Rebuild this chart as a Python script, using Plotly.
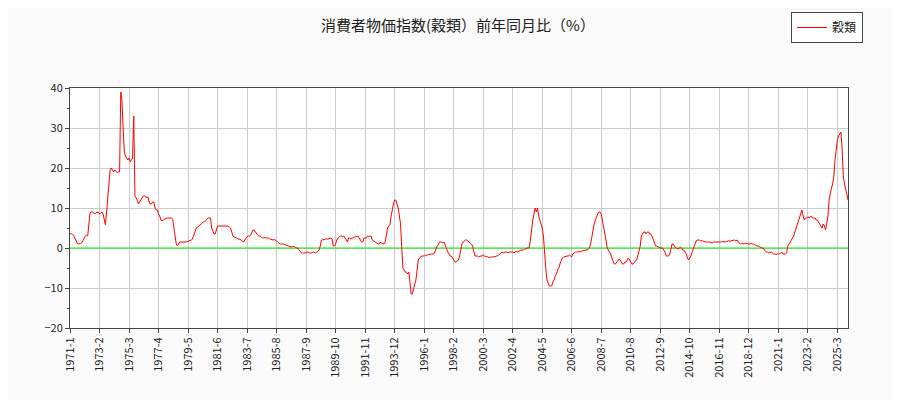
import plotly.graph_objects as go

start_year = 1971
values = [
3.5,3.6,3.4,3.2,2.5,1.8,1.3,1.0,1.0,1.1,1.3,2.0,
2.5,3.0,3.2,3.0,6.0,8.8,9.0,9.0,8.8,8.5,8.8,9.0,
9.0,8.5,8.8,9.0,8.5,7.0,5.8,9.0,13,17,19.5,20,
19.5,19,19.5,19,18.8,19,19,39,37,30,24,23,
22.5,22,22.5,21.5,22,22.5,33,13,12.5,12,11,11.5,
12,12.5,13,13,13,12.5,12.8,11.5,11,11,11.5,11.5,
10,9.5,9.5,8.5,8,7,6.8,7,7.2,7.5,7.5,7.5,
7.5,7.4,7.5,7.2,5,2,1,0.5,1,1.5,1.5,1.5,
1.5,1.5,1.5,1.5,1.7,1.8,1.8,2.0,2.5,3.5,4.5,5,
5.2,5.5,5.8,6,6.2,6.5,6.5,7,7.2,7.5,7.5,7.5,
5,4,3.5,3.5,4.5,5.5,5.5,5.5,5.5,5.5,5.5,5.5,
5.5,5.4,5.5,5.2,5,4,3,2.8,2.6,2.5,2.3,2.2,
2.2,2,1.8,1.5,2,2.5,2.8,3,3,3.2,3.8,4.5,
4.5,4,3.5,3.2,3,3,2.8,2.5,2.5,2.6,2.5,2.5,
2.5,2.3,2.2,2,2,2.1,2,1.8,1.5,1.2,1,1,
1,1,0.8,0.7,0.6,0.5,0.5,0.3,0.2,0.5,0.2,0.1,
0,0,-0.5,-1,-1.2,-1.2,-1.3,-1.2,-1.2,-1,-1.2,-1.2,
-1.3,-1.2,-1,-1.1,-1.2,-1,-0.8,-0.5,0.5,2,2.2,2,
2.2,2.3,2.2,2.3,2.5,2.5,2.3,0.5,0.5,1,2,2.5,
2.8,3,3,2.8,3,2.5,2,1.5,2.5,2.5,2.2,2.5,
2.5,2.8,2.8,3,3,2.5,2,1.5,1.5,2.5,2.5,2.5,
3,2.8,3,3,2,1.8,1.5,1.3,1.2,1,1,1.5,
1.2,1,1,1.5,3,5,5.5,5.8,8,10,11,12,
12,11,10,8,6,0,-5,-5.5,-6,-6,-6.5,-6,
-10,-11.5,-11.5,-10,-9,-8,-5,-3,-2.5,-2.2,-2,-2,
-2,-1.8,-1.8,-1.8,-1.5,-1.6,-1.5,-1.5,-1.5,-1,0,0.5,
0.8,1.5,1.5,1.5,1.2,1.5,0.5,-0.5,-1,-1.5,-2,-2,
-2.5,-3,-3.5,-3.5,-3.2,-3,-2,0,1,1.5,1.8,2,
2,1.8,1.5,1.2,1,0.5,-0.5,-2,-2,-2,-2.2,-2,
-2,-2,-1.8,-2,-2.2,-2.2,-2.2,-2.5,-2.3,-2.2,-2.2,-2.2,
-2.2,-2,-2,-1.8,-1.5,-1.2,-1,-1.2,-1,-1,-1,-1.2,
-1,-1,-1,-1,-1.2,-1,-0.8,-1,-0.8,-0.5,-0.5,-0.5,
-0.5,-0.3,-0.3,0,0,0,2,5,7,8.5,10,9,
10,8,7,6,5,3,-2,-5,-8,-9,-9.5,-9.5,
-9.5,-8.5,-8,-7,-6.5,-5.5,-5,-4,-3,-2.5,-2.3,-2.2,
-2,-2,-2,-1.8,-2,-2.2,-1.5,-1.2,-1,-1,-1,-0.8,
-1,-0.8,-0.7,-0.6,-0.5,-0.5,-0.5,-0.3,0,1,3,5,
6,7,8,8.5,9,9,8.5,7,5,3.5,2,0,
-0.5,-1,-1.5,-2.5,-3.5,-4,-4,-3.5,-3,-2.8,-3,-3.5,
-4,-4,-3.5,-3.5,-3,-2.5,-3,-3.5,-4,-4,-3.5,-3.2,
-3,-2,-1,0.5,3,3.5,4,4,3.5,4,4,3.5,
3.5,3,2,1,0.5,0.5,0.3,0.2,0,0,0,-0.5,
-1,-2,-2,-2,-1.5,-0.5,1,1,0.5,0,0,-0.3,
0,0.2,0,-0.5,-0.5,-1,-1.5,-2.5,-3,-2.5,-2,-1,
0,1,1.5,2,2,2,1.8,1.8,1.8,1.6,1.5,1.5,
1.5,1.5,1.5,1.3,1.3,1.5,1.5,1.5,1.4,1.5,1.5,1.5,
1.5,1.6,1.5,1.5,1.6,1.8,1.8,1.7,1.8,1.9,2,2,
1.8,2,1.5,1.2,1,1.1,1,1,1.2,1.1,1,1,
1,1.2,1,1,0.8,0.6,0.5,0.5,0.3,0.2,0,0,
-0.5,-0.8,-1,-1,-1.2,-1.2,-1,-1.3,-1.5,-1.5,-1.6,-1.5,
-1.5,-1.5,-1.2,-1,-1.5,-1.5,-1.5,-1.2,0.5,1,1.5,2,
2.5,3,4,5,6,7,8,9,9.5,8,7,7.5,
7.5,7.8,7.5,7.8,8,7.5,7.5,7.5,7,7,6.5,6,
5.5,5,6,5.5,4.5,6,8,12,14,15,16,18,
22,25,27,28,28.5,29,25,18,16,15,13.5,12,
]
months = [f"{start_year + i // 12}-{i % 12 + 1}" for i in range(len(values))]
tick_labels = months[::25]

fig = go.Figure()
fig.add_trace(go.Scatter(x=months, y=[0]*len(months), mode="lines",
                         line=dict(color="#00ee00", width=1), showlegend=False, hoverinfo="skip"))
fig.add_trace(go.Scatter(x=months, y=values, mode="lines", name="穀類",
                         line=dict(color="red", width=1)))

font = "Noto Sans CJK JP, DejaVu Sans"
fig.update_layout(
    width=900, height=400,
    margin=dict(l=62, r=60, t=80, b=80, autoexpand=False),
    paper_bgcolor="#fafafa", plot_bgcolor="white",
    font=dict(family=font, size=11, color="#222"),
    title=dict(text="消費者物価指数(穀類）前年同月比（%）", x=0.5, y=0.955, xanchor="center",
               yanchor="middle", font=dict(size=15, family=font)),
    legend=dict(x=0.95, y=0.99, xref="container", yref="container",
                xanchor="right", yanchor="top", bgcolor="white",
                bordercolor="#444", borderwidth=1, font=dict(size=12)),
    xaxis=dict(type="category", range=[0, len(values) - 1], tickvals=tick_labels,
               ticktext=tick_labels, tickangle=-90, showgrid=True, gridcolor="#cccccc",
               showline=True, linecolor="#444", ticks="outside", ticklen=4, mirror=True,
               automargin=False),
    yaxis=dict(range=[-20, 40], dtick=10, showgrid=True, gridcolor="#cccccc",
               showline=True, linecolor="#444", ticks="outside", ticklen=4, mirror=True,
               zeroline=False, automargin=False,
               minor=dict(dtick=5, ticks="outside", ticklen=2, showgrid=False)),
)
fig.write_html("out.html")
